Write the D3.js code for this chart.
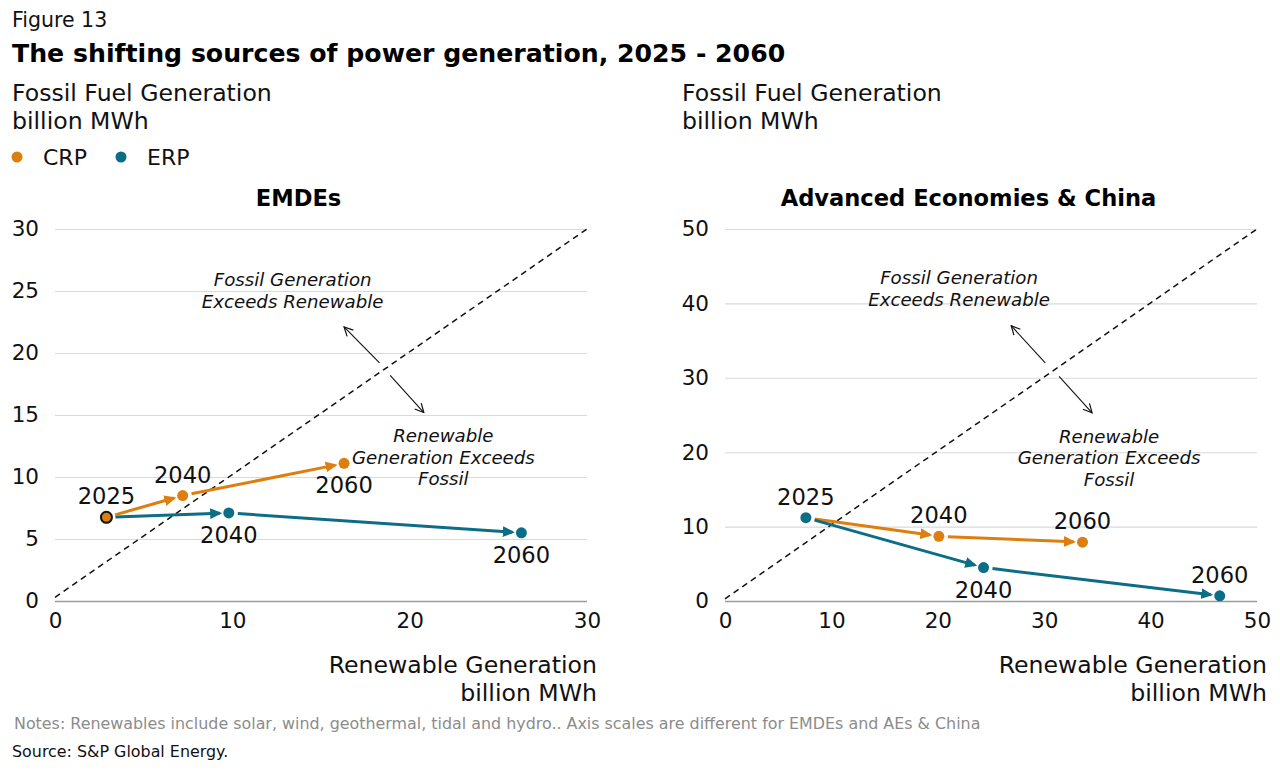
<!DOCTYPE html>
<html>
<head>
<meta charset="utf-8">
<script src="https://cdn.jsdelivr.net/npm/d3@7"></script>
<style>
  body { margin: 0; background: #fff; }
  svg { display: block; font-family: "DejaVu Sans", sans-serif; }
</style>
</head>
<body>
<div id="chart"></div>
<script>
// scenario trajectories, renewable (x) vs fossil (y), billion MWh
const YEARS = [2025, 2040, 2060];

const EMDE_CRP_RENEW = [2.9, 7.2, 16.3];
const EMDE_CRP_FOSSIL = [6.75, 8.5, 11.1];
const EMDE_ERP_RENEW = [2.9, 9.8, 26.3];
const EMDE_ERP_FOSSIL = [6.75, 7.1, 5.5];

const AEC_CRP_RENEW = [7.6, 20.1, 33.6];
const AEC_CRP_FOSSIL = [11.2, 8.7, 7.9];
const AEC_ERP_RENEW = [7.6, 24.3, 46.5];
const AEC_ERP_FOSSIL = [11.2, 4.5, 0.7];

const EMDE_TICKS = [0, 5, 10, 15, 20, 25, 30];
const EMDE_X_TICKS = [0, 10, 20, 30];
const AEC_TICKS = [0, 10, 20, 30, 40, 50];

const SERIES = ["CRP", "ERP"];
const COLORS = { CRP: "#dc7f0f", ERP: "#0c6d86" };

// year label placement (above / below the dot), per panel and series
const LABEL_SIDE = {
  EMDE: { CRP: ["up", "up", "down"], ERP: [null, "down", "down"] },
  AEC: { CRP: ["up", "up", "up"], ERP: [null, "down", "up"] },
};

const W = 1280, H = 774;
const svg = d3.select("#chart").append("svg")
  .attr("width", W).attr("height", H)
  .attr("viewBox", `0 0 ${W} ${H}`);

svg.append("defs").append("marker")
  .attr("id", "open-arrow")
  .attr("viewBox", "0 0 10 10")
  .attr("refX", 9).attr("refY", 5)
  .attr("markerWidth", 11).attr("markerHeight", 11)
  .attr("markerUnits", "userSpaceOnUse")
  .attr("orient", "auto")
  .append("path")
  .attr("d", "M1,1 L9,5 L1,9")
  .attr("fill", "none")
  .attr("stroke", "#111")
  .attr("stroke-width", 1.1);

// header
svg.append("text").attr("x", 12).attr("y", 27)
  .attr("font-size", 20.5).attr("fill", "#111").text("Figure 13");
svg.append("text").attr("x", 12).attr("y", 62)
  .attr("font-size", 25.2).attr("font-weight", "bold").attr("fill", "#000")
  .text("The shifting sources of power generation, 2025 - 2060");

// legend
const legend = svg.append("g").attr("transform", "translate(0,157)");
SERIES.forEach((s, i) => {
  const lx = 17 + i * 104;
  legend.append("circle").attr("cx", lx).attr("cy", 0).attr("r", 5.5).attr("fill", COLORS[s]);
  legend.append("text").attr("x", lx + 26).attr("y", 8)
    .attr("font-size", 22).attr("fill", "#111").text(s);
});

function zip(xs, ys) {
  return xs.map((x, i) => ({ year: YEARS[i], x, y: ys[i] }));
}

function drawPanel(cfg) {
  const { left, right, top, bottom, max, yTicks, xTicks, title, series, sides, notes } = cfg;
  const x = d3.scaleLinear().domain([0, max]).range([left, right]);
  const y = d3.scaleLinear().domain([0, max]).range([bottom, top]);
  const g = svg.append("g");

  // y title
  g.append("text").attr("x", left - 43).attr("y", 101).attr("font-size", 23.6).attr("fill", "#111")
    .text("Fossil Fuel Generation");
  g.append("text").attr("x", left - 43).attr("y", 129).attr("font-size", 23.6).attr("fill", "#111")
    .text("billion MWh");

  // panel title, centred over tick labels + plot
  g.append("text").attr("x", (left - 45 + right) / 2).attr("y", 206)
    .attr("text-anchor", "middle").attr("font-size", 22.6).attr("font-weight", "bold")
    .text(title);

  // gridlines
  const yAxis = g.append("g").attr("transform", `translate(${left},0)`)
    .call(d3.axisLeft(y).tickValues(yTicks).tickSize(-(right - left)).tickPadding(16));
  yAxis.select(".domain").remove();
  yAxis.selectAll(".tick line")
    .attr("stroke", d => d === 0 ? "#9a9a9a" : "#d9d9d9")
    .attr("stroke-width", d => d === 0 ? 1.6 : 1.1);
  yAxis.selectAll(".tick text").attr("font-size", 21.5).attr("fill", "#111")
    .attr("font-family", "DejaVu Sans").attr("x", -16);

  const xAxis = g.append("g").attr("transform", `translate(0,${bottom})`)
    .call(d3.axisBottom(x).tickValues(xTicks).tickSize(0).tickPadding(12));
  xAxis.select(".domain").remove();
  xAxis.selectAll(".tick text").attr("font-size", 21.5).attr("fill", "#111")
    .attr("font-family", "DejaVu Sans");

  // x title
  g.append("text").attr("x", right + 10).attr("y", 673).attr("text-anchor", "end")
    .attr("font-size", 23.6).attr("fill", "#111").text("Renewable Generation");
  g.append("text").attr("x", right + 10).attr("y", 701).attr("text-anchor", "end")
    .attr("font-size", 23.6).attr("fill", "#111").text("billion MWh");

  // parity line
  g.append("line")
    .attr("x1", x(0)).attr("y1", y(0.3))
    .attr("x2", x(max)).attr("y2", y(max))
    .attr("stroke", "#111").attr("stroke-width", 1.5).attr("stroke-dasharray", "6,4.5");

  // region notes
  const noteUp = g.append("text").attr("font-size", 18.2).attr("font-style", "italic")
    .attr("text-anchor", "middle").attr("fill", "#111");
  ["Fossil Generation", "Exceeds Renewable"].forEach((t, i) => {
    noteUp.append("tspan").attr("x", x(notes.upText[0])).attr("y", y(notes.upText[1]) + i * 21.5).text(t);
  });
  const noteDn = g.append("text").attr("font-size", 18.2).attr("font-style", "italic")
    .attr("text-anchor", "middle").attr("fill", "#111");
  ["Renewable", "Generation Exceeds", "Fossil"].forEach((t, i) => {
    noteDn.append("tspan").attr("x", x(notes.downText[0])).attr("y", y(notes.downText[1]) + i * 21.5).text(t);
  });
  notes.arrows.forEach(a => {
    g.append("line")
      .attr("x1", x(a[0])).attr("y1", y(a[1]))
      .attr("x2", x(a[2])).attr("y2", y(a[3]))
      .attr("stroke", "#111").attr("stroke-width", 1.1)
      .attr("marker-end", "url(#open-arrow)");
  });

  // trajectories
  series.forEach(({ name, pts }) => {
    const color = COLORS[name];
    const mid = `arrow-${name}-${title.length}`;
    svg.select("defs").append("marker")
      .attr("id", mid)
      .attr("viewBox", "0 0 10 10")
      .attr("refX", 8).attr("refY", 5)
      .attr("markerWidth", 12).attr("markerHeight", 12)
      .attr("markerUnits", "userSpaceOnUse")
      .attr("orient", "auto")
      .append("path").attr("d", "M0,0.5 L10,5 L0,9.5 Z").attr("fill", color);

    for (let i = 0; i < pts.length - 1; i++) {
      const x1 = x(pts[i].x), y1 = y(pts[i].y);
      const x2 = x(pts[i + 1].x), y2 = y(pts[i + 1].y);
      const len = Math.hypot(x2 - x1, y2 - y1);
      const ux = (x2 - x1) / len, uy = (y2 - y1) / len;
      g.append("line")
        .attr("x1", x1 + ux * 9).attr("y1", y1 + uy * 9)
        .attr("x2", x2 - ux * 9).attr("y2", y2 - uy * 9)
        .attr("stroke", color).attr("stroke-width", 3)
        .attr("marker-end", `url(#${mid})`);
    }
  });

  series.forEach(({ name, pts }) => {
    const color = COLORS[name];
    g.selectAll(null).data(pts.filter((d, i) => !(i === 0 && name !== cfg.topStart))).join("circle")
      .attr("cx", d => x(d.x)).attr("cy", d => y(d.y))
      .attr("r", 5.5).attr("fill", color);
    pts.forEach((d, i) => {
      const side = sides[name][i];
      if (!side) return;
      g.append("text")
        .attr("x", x(d.x)).attr("y", side === "up" ? y(d.y) - 13 : y(d.y) + 30)
        .attr("text-anchor", "middle").attr("font-size", 22.6).attr("fill", "#111")
        .text(d.year);
    });
  });

  return { x, y, g };
}

// EMDEs
const emde = drawPanel({
  left: 55, right: 587, top: 229, bottom: 601, max: 30,
  yTicks: EMDE_TICKS, xTicks: EMDE_X_TICKS, title: "EMDEs",
  series: [
    { name: "ERP", pts: zip(EMDE_ERP_RENEW, EMDE_ERP_FOSSIL) },
    { name: "CRP", pts: zip(EMDE_CRP_RENEW, EMDE_CRP_FOSSIL) },
  ],
  topStart: "CRP",
  sides: LABEL_SIDE.EMDE,
  notes: {
    upText: [13.4, 25.4], downText: [21.9, 12.8],
    arrows: [[18.3, 19.2, 16.3, 22.1], [18.9, 18.2, 20.8, 15.2]],
  },
});
// black ring around the shared 2025 start
emde.g.append("circle")
  .attr("cx", emde.x(EMDE_CRP_RENEW[0])).attr("cy", emde.y(EMDE_CRP_FOSSIL[0]))
  .attr("r", 5.5).attr("fill", COLORS.CRP).attr("stroke", "#111").attr("stroke-width", 2);

// Advanced Economies & China
drawPanel({
  left: 725, right: 1257, top: 229, bottom: 601, max: 50,
  yTicks: AEC_TICKS, xTicks: AEC_TICKS, title: "Advanced Economies & China",
  series: [
    { name: "CRP", pts: zip(AEC_CRP_RENEW, AEC_CRP_FOSSIL) },
    { name: "ERP", pts: zip(AEC_ERP_RENEW, AEC_ERP_FOSSIL) },
  ],
  topStart: "ERP",
  sides: LABEL_SIDE.AEC,
  notes: {
    upText: [22.0, 42.6], downText: [36.1, 21.3],
    arrows: [[30.1, 32.0, 26.9, 37.0], [31.4, 30.2, 34.5, 25.3]],
  },
});

// footer
svg.append("text").attr("x", 14).attr("y", 729).attr("font-size", 15.9).attr("fill", "#8c8c8c")
  .text("Notes: Renewables include solar, wind, geothermal, tidal and hydro.. Axis scales are different for EMDEs and AEs & China");
svg.append("text").attr("x", 12).attr("y", 757).attr("font-size", 15.9).attr("fill", "#111")
  .text("Source: S&P Global Energy.");
</script>
</body>
</html>
